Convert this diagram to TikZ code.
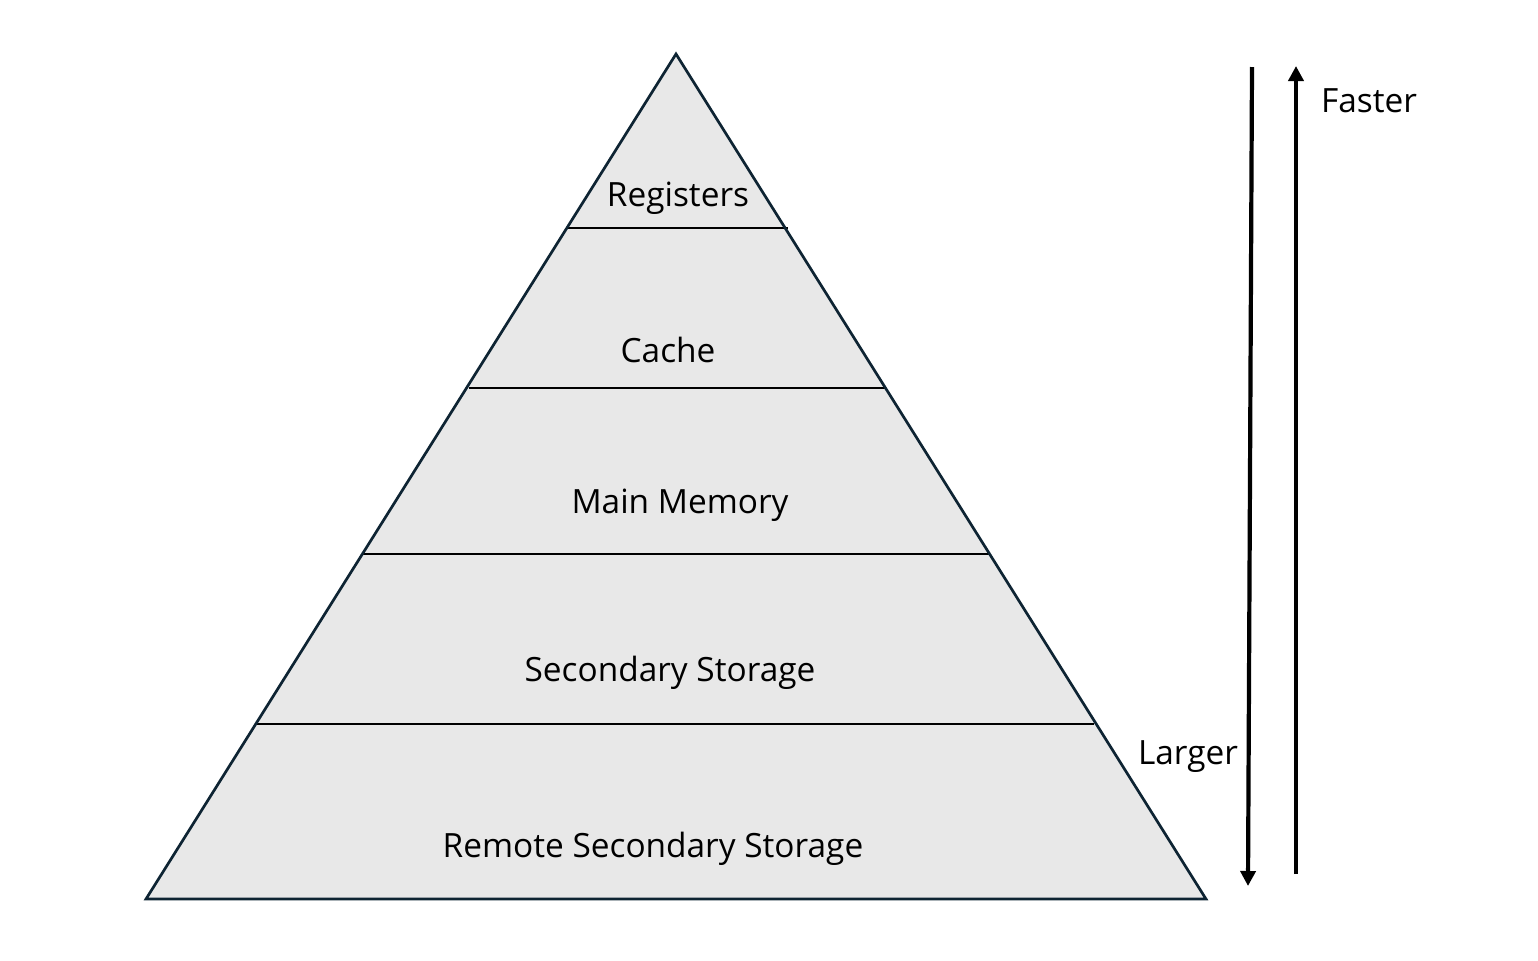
\documentclass[tikz,border=0pt]{standalone}
\usepackage{fontspec}
\setmainfont{Open Sans}
\usetikzlibrary{arrows.meta}
\definecolor{outline}{HTML}{0E2433}
\definecolor{tierfill}{HTML}{E8E8E8}
\begin{document}
\begin{tikzpicture}[x=0.5pt,y=-0.5pt,
  tier/.style={font=\fontsize{16.7}{20}\selectfont, text=black, inner sep=0pt},
  divider/.style={draw=black, line width=1.25pt},
  bigarrow/.style={draw=black, line width=2.1pt, -{Triangle[width=7.5pt,length=7.5pt]}},
  side/.style={font=\fontsize{16.7}{20}\selectfont, text=black, inner sep=0pt}]
\useasboundingbox (0,0) rectangle (1538,960);
\coordinate (apex) at (676,54);
\coordinate (bl) at (146,899);
\coordinate (br) at (1206,899);
\fill[tierfill] (apex) -- (bl) -- (br) -- cycle;
% dividers
\coordinate (d1l) at (566,228); \coordinate (d1r) at (788,228);
\coordinate (d2l) at (469,388); \coordinate (d2r) at (885,388);
\coordinate (d3l) at (362,554); \coordinate (d3r) at (990,554);
\coordinate (d4l) at (256,724); \coordinate (d4r) at (1094,724);
\draw[divider] (d1l) -- (d1r);
\draw[divider] (d2l) -- (d2r);
\draw[divider] (d3l) -- (d3r);
\draw[divider] (d4l) -- (d4r);
\draw[outline, line width=1.35pt, line join=miter] (apex) -- (bl) -- (br) -- cycle;
% labels
\node[tier] (reg) at (678,198) {Registers};
\node[tier] (cache) at (668,350) {Cache};
\node[tier] (mm) at (680,505) {Main Memory};
\node[tier] (ss) at (670,673) {Secondary Storage};
\node[tier] (rss) at (653,849) {Remote Secondary Storage};
% arrows
\coordinate (ds) at (1252,67);
\coordinate (de) at (1248,886);
\coordinate (us) at (1296,874);
\coordinate (ue) at (1296,66);
\draw[bigarrow] (ds) -- (de);
\draw[bigarrow] (us) -- (ue);
\node[side] (faster) at (1369,101) {Faster};
\node[side] (larger) at (1188,757) {Larger};
\end{tikzpicture}
\end{document}
